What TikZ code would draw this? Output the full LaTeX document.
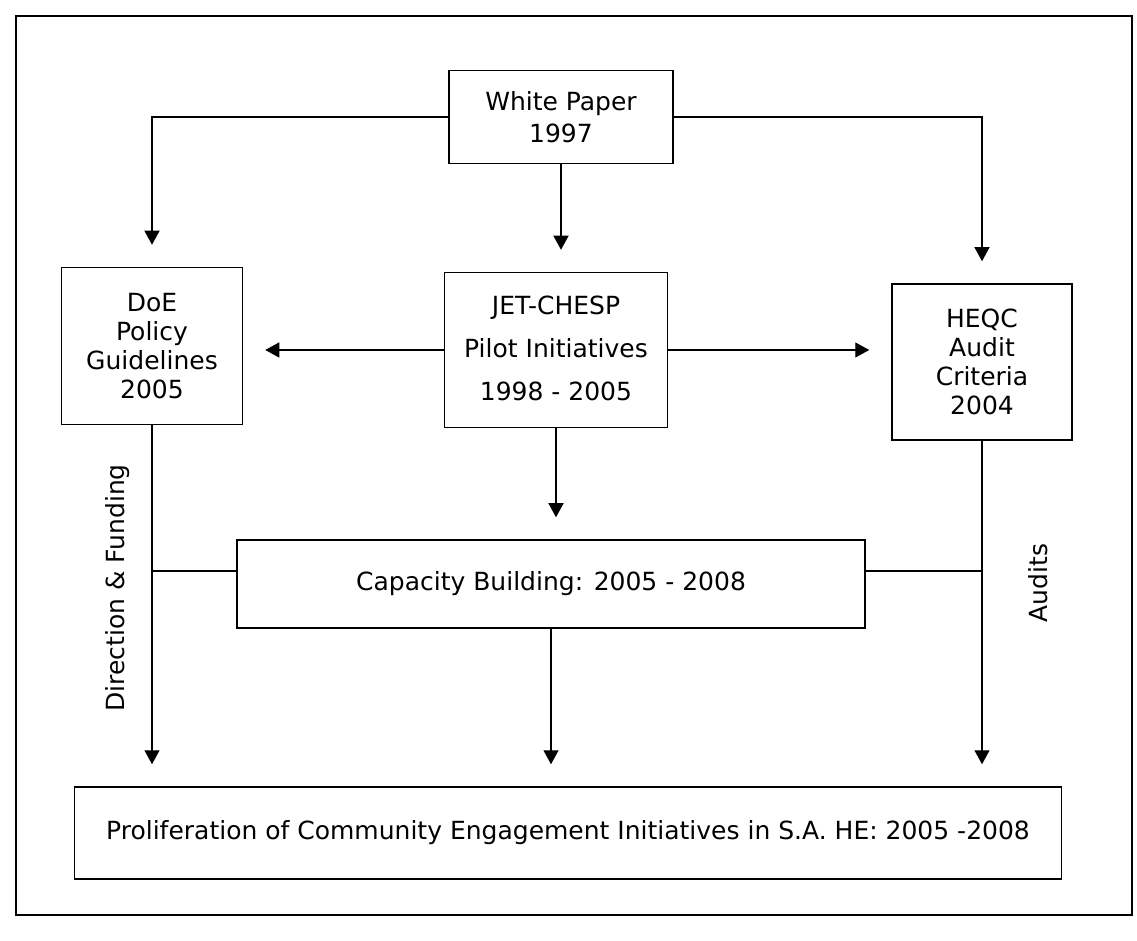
\documentclass[tikz,border=0pt]{standalone}
\usepackage{fontspec}
\setmainfont{DejaVu Sans}
\usetikzlibrary{
  arrows.meta,
  calc
}

\begin{document}
\begin{tikzpicture}[
    x=1pt, y=1pt,
  every node/.style = {shape=rectangle, draw, align=center,
    line width=1.5pt, inner sep=0pt,
    font=\fontsize{25}{29}\selectfont}]
    \tikzstyle{link}=[line width=1.3pt, -{Triangle[length=14pt,width=15pt]}, shorten >=22pt]
    \tikzstyle{tie}=[line width=1.3pt]
    \tikzstyle{side}=[draw=none, rotate=90]
  \useasboundingbox (0,0) rectangle (1137,940);
  \draw[line width=1.5pt] (16,25) rectangle (1132,924);
  \node[minimum width=224, minimum height=93] (wp) at (561,823) {White Paper\\[3pt]1997};
  \node[minimum width=181, minimum height=157] (doe) at (152,594) {DoE\\Policy\\Guidelines\\2005};
  \node[minimum width=223, minimum height=155] (jet) at (556,590)
    {\\[-14pt]JET-CHESP\\[14pt]Pilot Initiatives\\[14pt]1998 - 2005};
  \node[minimum width=180, minimum height=156] (heqc) at (982,578) {HEQC\\Audit\\Criteria\\2004};
  \node[minimum width=628, minimum height=88] (cap) at (551,356) {Capacity Building: 2005 - 2008};
  \node[minimum width=987, minimum height=92] (prolif) at (568,107)
    {Proliferation of Community Engagement Initiatives in S.A. HE: 2005 -2008};
  \node[side] (dirfund) at (118,352) {Direction \& Funding};
  \node[side] (audits) at (1038,357) {Audits};
  \coordinate (capL) at ([yshift=13pt]cap.west);
  \coordinate (capR) at ([yshift=13pt]cap.east);
  \draw[link] (wp.west) -| (doe.north);
  \draw[link] (wp.east) -| (heqc.north);
  \draw[link] (wp.south) -- (wp.south |- jet.north);
  \draw[link] (jet.west) -- (jet.west -| doe.east);
  \draw[link] (jet.east) -- (jet.east -| heqc.west);
  \draw[link] (jet.south) -- (jet.south |- cap.north);
  \draw[link] (doe.south) -- (doe.south |- prolif.north);
  \draw[link] (heqc.south) -- (heqc.south |- prolif.north);
  \draw[link] (cap.south) -- (cap.south |- prolif.north);
  \draw[tie] (capL) -- (capL -| doe.south);
  \draw[tie] (capR) -- (capR -| heqc.south);
\end{tikzpicture}
\end{document}
